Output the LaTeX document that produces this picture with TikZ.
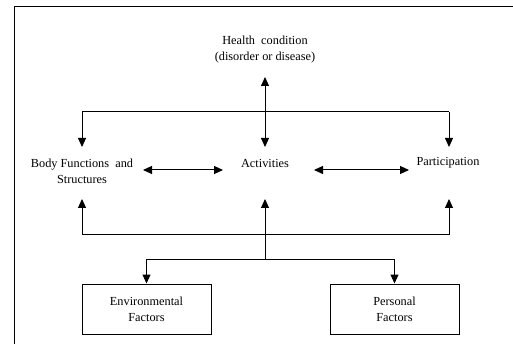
\documentclass[tikz,border=0pt]{standalone}
\usepackage{fontspec}
\setmainfont{Liberation Serif}
\usetikzlibrary{arrows.meta}

\begin{document}
\begin{tikzpicture}[x=1pt,y=-1pt,line width=1pt,
    tip/.tip={Triangle[length=9pt,width=8pt]},
    arr/.style={-tip},
    dbl/.style={tip-tip},
    factor/.style={draw,minimum width=129pt,minimum height=50pt,align=center},
    every node/.style={font=\fontsize{12.3}{16}\selectfont}]

    \useasboundingbox (0,0) rectangle (513,344);

    % frame
    \draw (14,344) -- (14,7) -- (513,7);

    \node [align=center] (health) at (265,49.5) {Health~ condition\\(disorder or disease)};
    \node [align=center] (body) at (82,171.5) {Body Functions~ and\\Structures};
    \node (act) at (265,163) {Activities};
    \node (part) at (448,163) {Participation};

    \node [factor] (env) at (146.5,309) {Environmental\\Factors};
    \node [factor] (pers) at (394.5,309) {Personal\\Factors};

    % junctions
    \coordinate (hc-tip) at (265,77);
    \coordinate (top-l) at (82,112);
    \coordinate (top-r) at (449,112);
    \coordinate (bot-l) at (82,235);
    \coordinate (bot-r) at (449,235);
    \coordinate (split) at (265,259);

    \draw [dbl] (hc-tip) -- (265,147);
    \draw (top-l) -- (top-r);
    \draw [arr] (top-l) -- (82,147);
    \draw [arr] (top-r) -- (449,147);

    \draw [dbl] (143,170) -- (223,170);
    \draw [dbl] (314,170) -- (409,170);

    \draw (bot-l) -- (bot-r);
    \draw [arr] (bot-l) -- (82,199);
    \draw [arr] (bot-r) -- (449,199);
    \draw [arr] (split) -- (265,199);

    \draw (split -| env.north) -- (split -| pers.north);
    \draw [arr] (split -| env.north) -- (env.north);
    \draw [arr] (split -| pers.north) -- (pers.north);

\end{tikzpicture}
\end{document}
